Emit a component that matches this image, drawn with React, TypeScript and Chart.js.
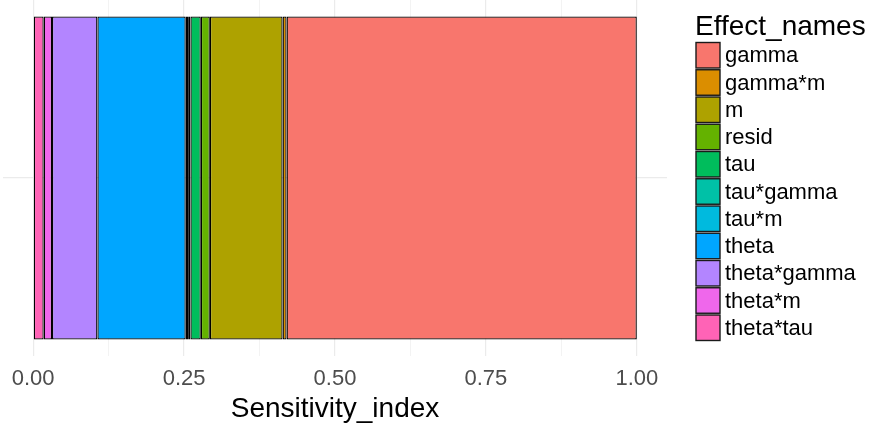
import React, { useEffect, useRef } from 'react';
import { Chart, registerables } from 'chart.js';

Chart.register(...registerables);

// ---- data (legend order) ----
const effectNames = [
  'gamma', 'gamma*m', 'm', 'resid', 'tau', 'tau*gamma',
  'tau*m', 'theta', 'theta*gamma', 'theta*m', 'theta*tau',
];
const sensitivityIndex = [
  0.5802, 0.0066, 0.1205, 0.0150, 0.0172, 0.0038,
  0.0040, 0.1463, 0.0752, 0.0138, 0.0174,
];
const effectColors = [
  '#F8766D', '#DB8E00', '#AEA200', '#64B200', '#00BD5C', '#00C1A7',
  '#00BADE', '#00A6FF', '#B385FF', '#EF67EB', '#FF63B6',
];
const categoryLabels = [''];
const xMajorTicks = [0, 0.25, 0.5, 0.75, 1];
const xMinorTicks = [0.125, 0.375, 0.625, 0.875];
const xAxisTitle = 'Sensitivity_index';
const legendTitle = 'Effect_names';

const FONT = '"Liberation Sans", Arial, Helvetica, sans-serif';

const isMajor = (v: number) => Math.abs(v * 4 - Math.round(v * 4)) < 1e-9;

const legendPlugin = {
  id: 'ggLegend',
  afterDraw(chart: any) {
    const ctx = chart.ctx;
    ctx.save();
    ctx.fillStyle = '#000000';
    ctx.font = `28px ${FONT}`;
    ctx.textAlign = 'left';
    ctx.textBaseline = 'middle';
    ctx.fillText(legendTitle, 695, 27);
    const top0 = 42.5;
    const step = 27.25;
    const boxW = 24;
    const boxH = 25.5;
    ctx.font = `22px ${FONT}`;
    effectNames.forEach((name, i) => {
      const y = top0 + i * step;
      ctx.fillStyle = effectColors[i];
      ctx.fillRect(696, y, boxW, boxH);
      ctx.strokeStyle = '#1a1a1a';
      ctx.lineWidth = 1.4;
      ctx.strokeRect(696, y, boxW, boxH);
      ctx.fillStyle = '#000000';
      ctx.fillText(name, 725, y + boxH / 2 + 1);
    });
    ctx.restore();
  },
};

export default function App() {
  const canvasRef = useRef<HTMLCanvasElement | null>(null);

  useEffect(() => {
    if (!canvasRef.current) return;
    const order = effectNames.map((_, i) => i).reverse();
    const datasets = order.map((i) => ({
      label: effectNames[i],
      data: [sensitivityIndex[i]],
      backgroundColor: effectColors[i],
      borderColor: '#000000',
      borderWidth: 1.3,
      borderSkipped: false,
      barPercentage: 0.907,
      categoryPercentage: 1,
    }));
    const allTicks = [...xMajorTicks, ...xMinorTicks].sort((a, b) => a - b);
    const chart = new Chart(canvasRef.current, {
      type: 'bar',
      data: { labels: categoryLabels, datasets },
      plugins: [legendPlugin],
      options: {
        responsive: false,
        animation: false,
        indexAxis: 'y',
        layout: { padding: { left: 3, right: 202, top: 0, bottom: 0 } },
        plugins: {
          legend: { display: false },
          tooltip: { enabled: false },
        },
        scales: {
          x: {
            type: 'linear',
            stacked: true,
            min: -0.05,
            max: 1.05,
            afterBuildTicks: (s: any) => {
              s.ticks = allTicks.map((v) => ({ value: v }));
            },
            afterFit: (s: any) => {
              s.height = 70;
            },
            ticks: {
              autoSkip: false,
              maxRotation: 0,
              padding: 10,
              color: '#4d4d4d',
              font: { size: 22, family: FONT },
              callback: (v: any) => (isMajor(Number(v)) ? Number(v).toFixed(2) : ''),
            },
            grid: {
              drawTicks: false,
              color: '#ebebeb',
              lineWidth: (c: any) => (c.tick && isMajor(c.tick.value) ? 1.2 : 0.6),
            },
            border: { display: false },
            title: {
              display: true,
              text: xAxisTitle,
              color: '#000000',
              font: { size: 28, family: FONT },
              padding: { top: 0, bottom: 0 },
            },
          },
          y: {
            type: 'category',
            stacked: true,
            offset: true,
            afterFit: (s: any) => {
              s.width = 0;
            },
            ticks: { display: false },
            grid: { offset: false, drawTicks: false, color: '#ebebeb', lineWidth: 1.2 },
            border: { display: false },
          },
        },
      },
    });
    return () => chart.destroy();
  }, []);

  return (
    <div style={{ position: 'fixed', left: 0, top: 0, width: 869, height: 426, background: '#ffffff' }}>
      <canvas ref={canvasRef} width={869} height={426} />
    </div>
  );
}
